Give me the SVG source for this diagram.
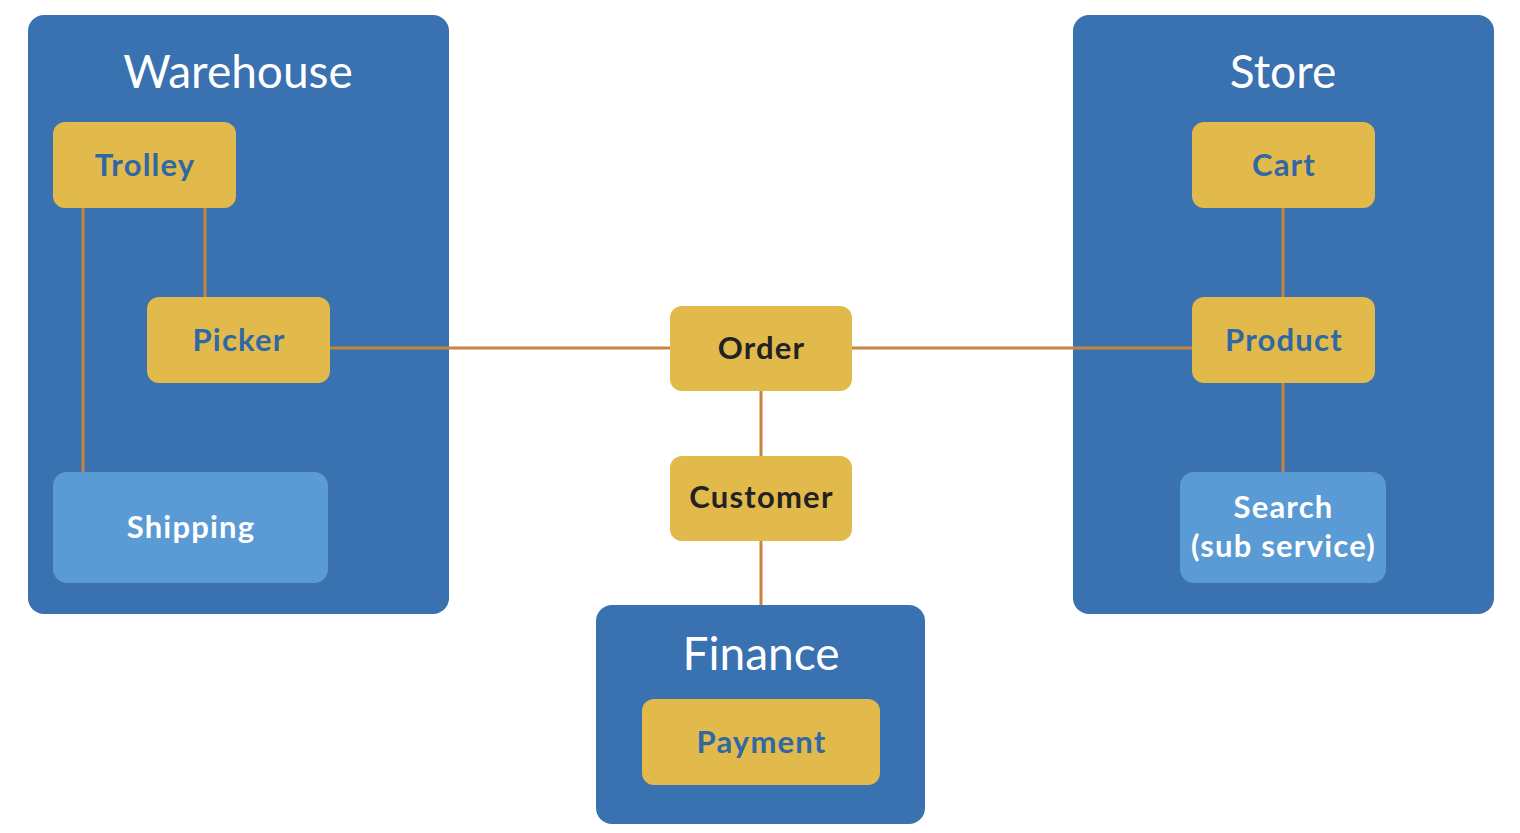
<svg xmlns="http://www.w3.org/2000/svg" width="1520" height="833" viewBox="0 0 1520 833">
<style>
.ctr{fill:#3A71B0}
.yel{fill:#E2B94B}
.lb{fill:#5A9BD5}
.title{font-family:Lato,"Open Sans",sans-serif;font-size:46px;fill:#fff;text-anchor:middle}
.lbl{font-family:Lato,"Open Sans",sans-serif;font-size:31px;font-weight:bold;text-anchor:middle;letter-spacing:1.2px}
.bt{fill:#2F68A5}
.dk{fill:#222}
.wt{fill:#fff}
.ln{stroke:#C9843F;stroke-width:3;fill:none}
</style>
<rect width="1520" height="833" fill="#fff"/>
<g id="warehouse">
<rect class="ctr" x="28" y="15" width="421" height="599" rx="16"/>
<text class="title" x="238" y="88">Warehouse</text>
</g>
<g id="store">
<rect class="ctr" x="1073" y="15" width="421" height="599" rx="16"/>
<text class="title" x="1283" y="88">Store</text>
</g>
<g id="finance">
<rect class="ctr" x="596" y="605" width="329" height="219" rx="16"/>
<text class="title" x="761" y="670">Finance</text>
</g>
<g id="connectors">
<line class="ln" x1="83" y1="208" x2="83" y2="472"/>
<line class="ln" x1="205" y1="208" x2="205" y2="297"/>
<line class="ln" x1="330" y1="348" x2="670" y2="348"/>
<line class="ln" x1="852" y1="348" x2="1192" y2="348"/>
<line class="ln" x1="761" y1="391" x2="761" y2="456"/>
<line class="ln" x1="761" y1="541" x2="761" y2="605"/>
<line class="ln" x1="1283" y1="208" x2="1283" y2="297"/>
<line class="ln" x1="1283" y1="383" x2="1283" y2="472"/>
</g>
<g id="trolley">
<rect class="yel" x="53" y="122" width="183" height="86" rx="12"/>
<text class="lbl bt" x="145" y="176">Trolley</text>
</g>
<g id="picker">
<rect class="yel" x="147" y="297" width="183" height="86" rx="12"/>
<text class="lbl bt" x="239" y="351">Picker</text>
</g>
<g id="shipping">
<rect class="lb" x="53" y="472" width="275" height="111" rx="14"/>
<text class="lbl wt" x="191" y="538">Shipping</text>
</g>
<g id="order">
<rect class="yel" x="670" y="306" width="182" height="85" rx="12"/>
<text class="lbl dk" x="761.5" y="359">Order</text>
</g>
<g id="customer">
<rect class="yel" x="670" y="456" width="182" height="85" rx="12"/>
<text class="lbl dk" x="761.5" y="508">Customer</text>
</g>
<g id="payment">
<rect class="yel" x="642" y="699" width="238" height="86" rx="12"/>
<text class="lbl bt" x="761.5" y="753">Payment</text>
</g>
<g id="cart">
<rect class="yel" x="1192" y="122" width="183" height="86" rx="12"/>
<text class="lbl bt" x="1284" y="176">Cart</text>
</g>
<g id="product">
<rect class="yel" x="1192" y="297" width="183" height="86" rx="12"/>
<text class="lbl bt" x="1284" y="351">Product</text>
</g>
<g id="search">
<rect class="lb" x="1180" y="472" width="206" height="111" rx="14"/>
<text class="lbl wt" x="1283.5" y="518">Search</text>
<text class="lbl wt" x="1283.5" y="557">(sub service)</text>
</g>
</svg>
